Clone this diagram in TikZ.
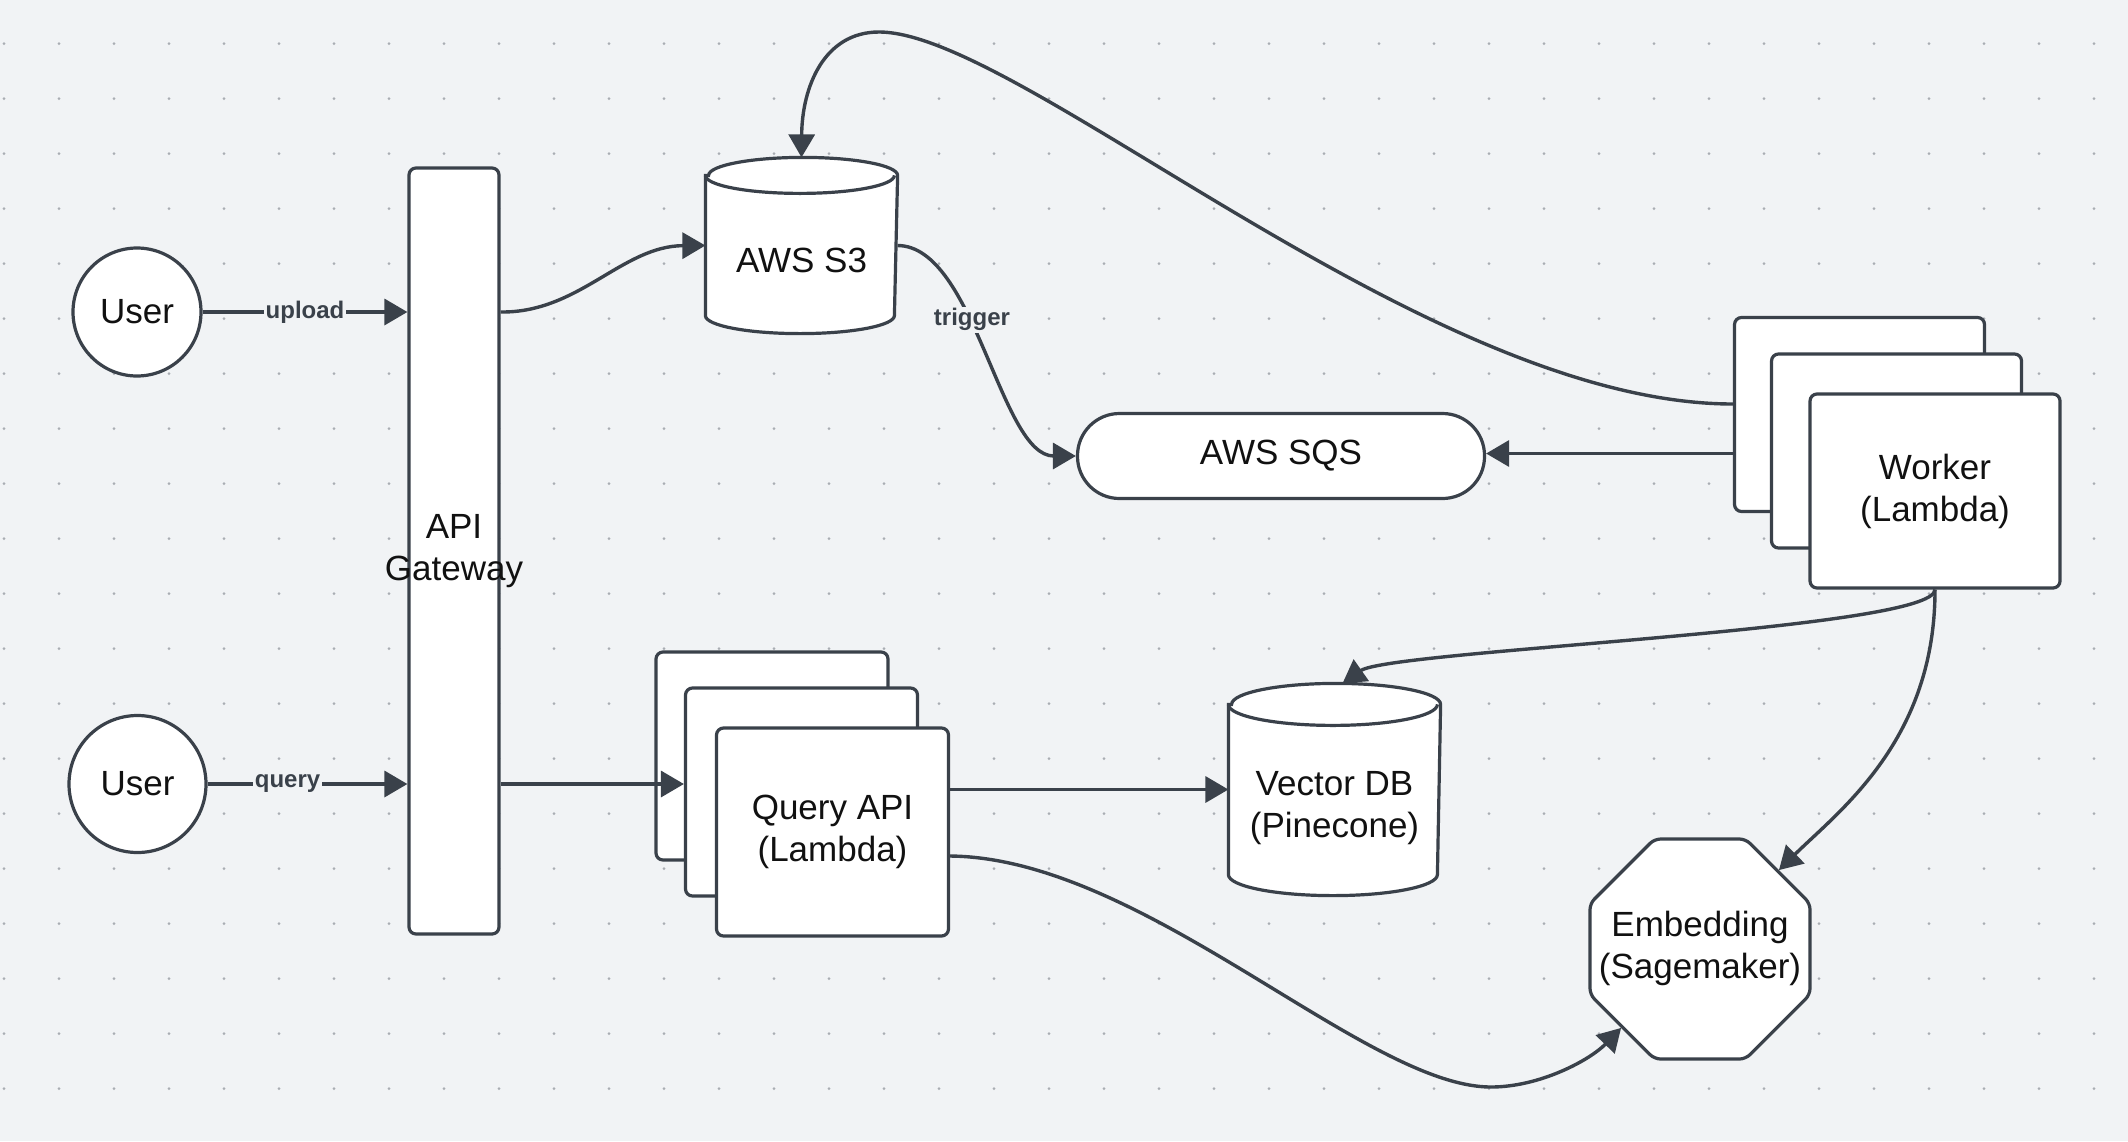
\documentclass[tikz,border=0pt]{standalone}
\usepackage{fontspec}
\setmainfont{Liberation Sans}
\usetikzlibrary{arrows.meta,shapes.geometric}
\definecolor{bg}{HTML}{F1F3F5}
\definecolor{lc}{HTML}{3A414A}
\definecolor{dotc}{HTML}{A9ADB3}
\definecolor{tc}{HTML}{111111}
\begin{document}
\begin{tikzpicture}[x=0.5pt,y=-0.5pt,
  shp/.style={draw=lc, fill=white, line width=1.6pt},
  card/.style={shp, rounded corners=3.5pt, minimum width=116pt, minimum height=104pt, inner sep=0pt},
  wcard/.style={shp, rounded corners=3.5pt, minimum width=125pt, minimum height=97pt, inner sep=0pt},
  txt/.style={font=\fontsize{17.5}{21}\selectfont, text=tc, align=center, inner sep=0pt},
  edge/.style={draw=lc, line width=1.7pt, -{Triangle[length=11.5pt,width=13pt]}},
  elabel/.style={font=\fontsize{12}{14}\selectfont\bfseries, text=lc, fill=bg, inner sep=1pt},
  ghost/.style={draw=none, inner sep=0pt, outer sep=0.8pt}
]
% background and dot grid
\fill[bg] (0,0) rectangle (2128,1141);
\useasboundingbox (0,0) rectangle (2128,1141);
\foreach \i in {0,...,38} {
  \foreach \j in {0,...,19} {
    \fill[dotc] ({4+55*\i},{43.6+55*\j}) circle[radius=0.75pt];
  }
}

% users
\node[shp, circle, minimum size=64pt, txt] (u1) at (137,312) {User};
\node[shp, circle, minimum size=68.5pt, txt] (u2) at (137.5,784) {User};

% API gateway
\node[shp, rounded corners=3.5pt, minimum width=45pt, minimum height=383pt, inner sep=0pt] (api) at (454,551) {};
\node[txt] (apit) at (454,551) {API\\Gateway};

% AWS S3 cylinder
\node[ghost, minimum width=94.5pt, minimum height=86.5pt] (s3) at (801.5,245.5) {};
\path[shp] ([yshift=-9pt]s3.north west) -- ([yshift=9pt]s3.south west)
  arc[start angle=180, end angle=360, x radius=47.25pt, y radius=9pt]
  -- ([yshift=-9pt]s3.north east)
  arc[start angle=0, end angle=180, x radius=47.25pt, y radius=9pt] -- cycle;
\draw[draw=lc, line width=1.6pt] ([yshift=-9pt]s3.north west)
  arc[start angle=180, end angle=360, x radius=47.25pt, y radius=9pt];
\node[txt] (s3t) at (801.5,260) {AWS S3};

% AWS SQS
\node[shp, rounded corners=21pt, minimum width=203.5pt, minimum height=42.5pt, txt] (sqs) at (1281,456) {AWS SQS};

% Worker stack
\node[wcard] (wk3) at (1859.5,414.5) {};
\node[wcard] (wk2) at (1896.5,451) {};
\node[wcard, txt] (wk1) at (1935,491) {Worker\\(Lambda)};

% Query API stack
\node[card] (q3) at (772,756) {};
\node[card] (q2) at (801.5,792) {};
\node[card, txt] (q1) at (832.5,832) {Query API\\(Lambda)};

% Vector DB cylinder
\node[ghost, minimum width=104.5pt, minimum height=104.5pt] (vdb) at (1334.5,789.5) {};
\path[shp] ([yshift=-10.5pt]vdb.north west) -- ([yshift=10.5pt]vdb.south west)
  arc[start angle=180, end angle=360, x radius=52.25pt, y radius=10.5pt]
  -- ([yshift=-10.5pt]vdb.north east)
  arc[start angle=0, end angle=180, x radius=52.25pt, y radius=10.5pt] -- cycle;
\draw[draw=lc, line width=1.6pt] ([yshift=-10.5pt]vdb.north west)
  arc[start angle=180, end angle=360, x radius=52.25pt, y radius=10.5pt];
\node[txt] (vdbt) at (1334.5,808) {Vector DB\\(Pinecone)};

% Embedding octagon
\node[shp, regular polygon, regular polygon sides=8, minimum size=119.06pt, inner sep=0pt, rounded corners=3pt] (emb) at (1700,949) {};
\node[txt] (embt) at (1700,948) {Embedding\\(Sagemaker)};

% connectors
\draw[edge] (u1.east) -- node[elabel]{upload} (u1 -| api.west);
\draw[edge] (u2.east) -- node[elabel, pos=0.4]{query} (u2 -| api.west);
\draw[edge] (u1 -| api.east) .. controls (579,313) and (622,246) .. (s3.west);
\draw[edge] (s3.east) .. controls (975,246) and (1000,456) .. node[elabel, pos=0.4]{trigger} (sqs.west);
\draw[edge] ([yshift=5.25pt]wk3.west) .. controls (1426,404) and (1020,32) .. (879,32)
  .. controls (824,32) and (802,87) .. (s3.north);
\coordinate (sqsin) at ([yshift=1.25pt]sqs.east);
\draw[edge] (sqsin -| wk3.west) -- (sqsin);
\draw[edge] (wk1.south) .. controls (1935,630) and (1390,650) .. ([xshift=4pt]vdb.north);
\draw[edge] (wk1.south) .. controls (1935,740) and (1840,810) .. (emb.45);
\draw[edge] (u2 -| api.east) -- (u2 -| q2.west);
\draw[edge] (vdb.west -| q1.east) -- (vdb.west);
\draw[edge] ([yshift=-12pt]q1.east) .. controls (1144,858) and (1365,1087) .. (1491,1087)
  .. controls (1540,1087) and (1590,1060) .. (emb.225);
\end{tikzpicture}
\end{document}
